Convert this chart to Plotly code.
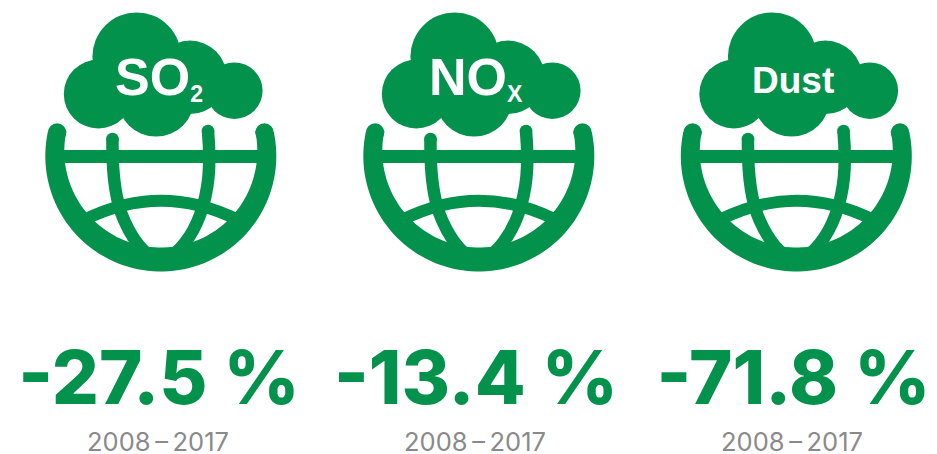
import numpy as np
import plotly.graph_objects as go

# --- data ---
pollutants = ["SO2", "NOx", "Dust"]
changes = [-27.5, -13.4, -71.8]
period_start = [2008, 2008, 2008]
period_end = [2017, 2017, 2017]

# --- label markup / style ---
label_markup = {
    "SO2": "<b>SO<span style='font-size:33px'><sub>2</sub></span></b>",
    "NOx": "<b>NO<span style='font-size:33px'><sub>X</sub></span></b>",
    "Dust": "<b>Dust</b>",
}
label_size = {"SO2": 52, "NOx": 52, "Dust": 37}
GREEN = "#03924C"
GREY = "#8A8A8A"
W, H = 937, 454

# pictogram placement (pixel canvas)
icon_offset = [0, 318, 635.5]
value_x = [159, 476, 793.5]
period_x = [158, 475, 792]
label_x = [158.5, 476, 793]

# cloud lobes (cx, cy, r) in the first icon's frame
lobes = [(136.7, 56.7, 44.3), (98.3, 94, 34.5), (156, 98.3, 38.3),
         (190, 77.3, 36.7), (234.3, 90.7, 28.3), (180, 85, 30)]


def circle(cx, cy, r):
    return dict(type="circle", xref="x", yref="y", x0=cx - r, x1=cx + r, y0=cy - r, y1=cy + r,
                fillcolor=GREEN, line=dict(width=0), layer="below")


def stroke(path, w):
    return dict(type="path", xref="x", yref="y", path=path, line=dict(color=GREEN, width=w),
                fillcolor="rgba(0,0,0,0)", layer="below")


def arc_pts(cx, cy, r, a0, a1, n=80):
    t = np.radians(np.linspace(a0, a1, n))
    return list(zip(cx + r * np.cos(t), cy + r * np.sin(t)))


def icon_shapes(dx):
    out = [circle(x + dx, y, r) for x, y, r in lobes]
    cx = 160.8 + dx
    # globe ring: outer and inner arcs closed into a crescent (angles clockwise on screen, y down)
    outer = arc_pts(cx, 156, 115.5, -12, 192)
    inner = arc_pts(cx, 151, 96.5, 192, -12)
    pts = outer + inner
    ring = "M " + " L ".join(f"{x:.2f} {y:.2f}" for x, y in pts) + " Z"
    out.append(dict(type="path", xref="x", yref="y", path=ring, fillcolor=GREEN,
                    line=dict(width=0), layer="below"))
    # ring end caps
    out.append(circle(57.1 + dx, 132.5, 9.2))
    out.append(circle(264.5 + dx, 132.5, 9.2))
    # horizontal bar
    out.append(stroke(f"M {62 + dx} 156.5 L {260 + dx} 156.5", 13))
    # meridian caps
    out.append(circle(112.5 + dx, 139, 6.3))
    out.append(circle(208 + dx, 131, 6.3))
    # meridians
    out.append(stroke(f"M {112.5 + dx} 139 C {112 + dx} 175 {115 + dx} 200 {124 + dx} 220 "
                      f"C {131 + dx} 236 {142 + dx} 254 {160 + dx} 262", 12.5))
    out.append(stroke(f"M {208 + dx} 131 C {211 + dx} 165 {209 + dx} 190 {200 + dx} 215 "
                      f"C {193 + dx} 234 {180 + dx} 254 {162 + dx} 262", 12.5))
    # latitude arc
    out.append(stroke(f"M {85 + dx} 219.5 Q {161 + dx} 182 {237 + dx} 219.5", 12))
    return out


shapes = []
for off in icon_offset:
    shapes += icon_shapes(off)

fig = go.Figure()
# pollutant labels
for p, x in zip(pollutants, label_x):
    fig.add_annotation(x=x, y=77 if p != "Dust" else 80, text=label_markup[p], showarrow=False,
                       xanchor="center", yanchor="middle",
                       font=dict(family="Liberation Sans", size=label_size[p], color="white"))
# values
fig.add_trace(go.Scatter(x=value_x, y=[385.5] * 3, mode="text",
                         text=[f"{v:.1f} %" for v in changes],
                         textposition="middle center",
                         textfont=dict(family="Inter", size=74, weight=800, color=GREEN),
                         hoverinfo="skip", showlegend=False))
# periods
fig.add_trace(go.Scatter(x=period_x, y=[444.5] * 3, mode="text",
                         text=[f"{a}\u2009\u2013\u2009{b}" for a, b in zip(period_start, period_end)],
                         textposition="middle center",
                         textfont=dict(family="Inter", size=25.5, color=GREY),
                         hoverinfo="skip", showlegend=False))

fig.update_layout(
    width=W, height=H, margin=dict(l=0, r=0, t=0, b=0),
    paper_bgcolor="white", plot_bgcolor="white", shapes=shapes, showlegend=False,
    xaxis=dict(range=[0, W], visible=False, fixedrange=True),
    yaxis=dict(range=[H, 0], visible=False, fixedrange=True),
)
fig.write_html("out.html", config={"displayModeBar": False},
               post_script="document.body.style.margin='0';document.body.style.overflow='hidden';")
